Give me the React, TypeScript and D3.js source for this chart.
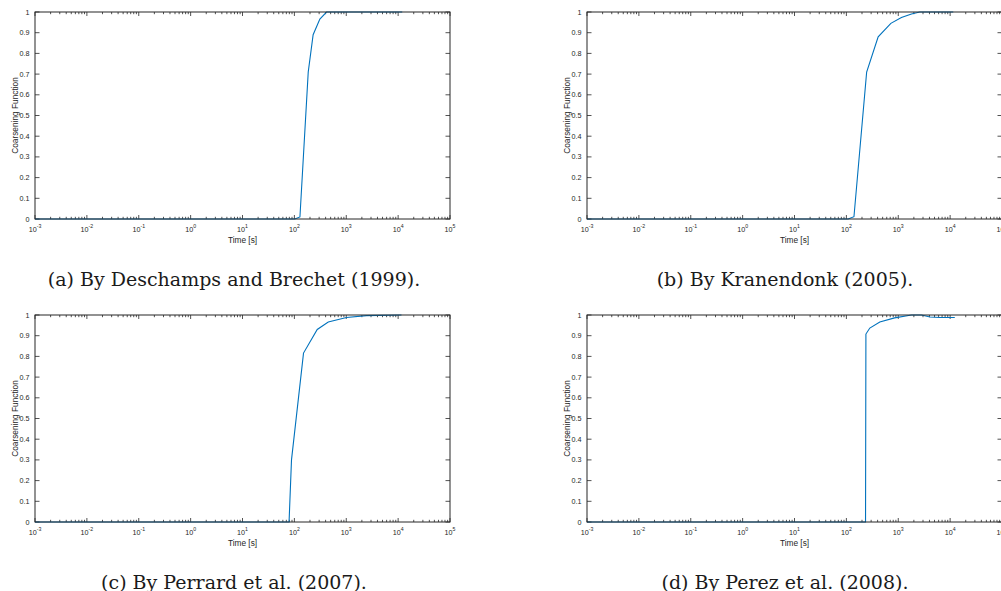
import * as d3 from "d3";

// coarsening function curves (time in s)
const T_A = [1e-3, 102, 128, 185, 230, 310, 417, 12000];
const F_A = [0, 0, 0.01, 0.71, 0.89, 0.966, 1.0, 1.0];

const T_B = [1e-3, 108, 140, 246, 410, 720, 1150, 1800, 2600, 11500];
const F_B = [0, 0, 0.011, 0.71, 0.88, 0.945, 0.973, 0.99, 1.0, 1.0];

const T_C = [1e-3, 79, 88, 150, 276, 450, 1010, 2450, 11600];
const F_C = [0, 0, 0.3, 0.816, 0.93, 0.966, 0.988, 0.997, 1.0];

const T_D = [1e-3, 234, 238, 283, 441, 850, 1800, 2800, 4100, 6300, 12300];
const F_D = [0, 0, 0.908, 0.937, 0.966, 0.986, 1.0, 1.0, 0.99, 0.988, 0.988];

const CAPTIONS = [
  "(a) By Deschamps and Brechet (1999).",
  "(b) By Kranendonk (2005).",
  "(c) By Perrard et al. (2007).",
  "(d) By Perez et al. (2008).",
];

const X_DOMAIN = [1e-3, 1e5];
const Y_TICKS = [0, 0.1, 0.2, 0.3, 0.4, 0.5, 0.6, 0.7, 0.8, 0.9, 1];
const X_LABEL = "Time [s]";
const Y_LABEL = "Coarsening Function";

const SERIES = [
  { t: T_A, f: F_A },
  { t: T_B, f: F_B },
  { t: T_C, f: F_C },
  { t: T_D, f: F_D },
];

// layout
const W = 1001, H = 591;
const AX_W = 415, AX_H = 207;
const ORIGINS = [
  [35, 12],
  [587, 12],
  [35, 315],
  [587, 315],
];
const CAPTION_X = [234, 785, 234, 785];
const CAPTION_DY = 273.5; // caption baseline below the axes top

const AXIS = "#262626";
const LINE = "#0072BD";
const SANS = "'Liberation Sans', Arial, sans-serif";

function fmtY(v: number) {
  if (v === 0) return "0";
  if (v === 1) return "1";
  return d3.format(".1f")(v);
}

function Panel({ i }: { i: number }) {
  const [ox, oy] = ORIGINS[i];
  const { t, f } = SERIES[i];
  const x = d3.scaleLog().domain(X_DOMAIN).range([0, AX_W]);
  const y = d3.scaleLinear().domain([0, 1]).range([AX_H, 0]);

  const ticks = x.ticks();
  const isMajor = (v: number) => Math.abs(Math.log10(v) - Math.round(Math.log10(v))) < 1e-9;

  const line = d3.line<number>()
    .x((_, k) => x(t[k]))
    .y((d) => y(d));

  return (
    <g transform={`translate(${ox},${oy})`}>
      {/* x ticks, bottom and top */}
      {ticks.map((v, k) => {
        const len = isMajor(v) ? 4 : 2.2;
        const px = x(v);
        return (
          <g key={k} stroke={AXIS} strokeWidth={0.8}>
            <line x1={px} x2={px} y1={AX_H} y2={AX_H - len} />
            <line x1={px} x2={px} y1={0} y2={len} />
          </g>
        );
      })}
      {/* y ticks, left and right */}
      {Y_TICKS.map((v, k) => (
        <g key={k} stroke={AXIS} strokeWidth={0.8}>
          <line x1={0} x2={4.5} y1={y(v)} y2={y(v)} />
          <line x1={AX_W} x2={AX_W - 4.5} y1={y(v)} y2={y(v)} />
        </g>
      ))}

      <path d={line(f) ?? ""} fill="none" stroke={LINE} strokeWidth={1.1} />

      <rect x={0} y={0} width={AX_W} height={AX_H} fill="none" stroke={AXIS} strokeWidth={1} />

      {/* x tick labels */}
      {ticks.filter(isMajor).map((v, k) => (
        <text key={k} x={x(v)} y={AX_H + 13} textAnchor="middle" fontFamily={SANS}
          fontSize={7.2} fill={AXIS}>
          10<tspan dy={-3.6} fontSize={5.2}>{Math.round(Math.log10(v))}</tspan>
        </text>
      ))}
      {/* y tick labels */}
      {Y_TICKS.map((v, k) => (
        <text key={k} x={-5.5} y={y(v)} dy="0.35em" textAnchor="end" fontFamily={SANS}
          fontSize={7.2} fill={AXIS}>
          {fmtY(v)}
        </text>
      ))}

      <text x={AX_W / 2} y={AX_H + 24} textAnchor="middle" fontFamily={SANS} fontSize={8.3} fill={AXIS}>
        {X_LABEL}
      </text>
      <text transform={`translate(-20,${AX_H / 2}) rotate(-90)`} textAnchor="middle" dy="0.35em"
        fontFamily={SANS} fontSize={8.3} fill={AXIS}>
        {Y_LABEL}
      </text>

      <text x={CAPTION_X[i] - ox} y={CAPTION_DY} textAnchor="middle"
        fontFamily="'DejaVu Serif', serif" fontSize={19} fill="#1a1a1a">
        {CAPTIONS[i]}
      </text>
    </g>
  );
}

export default function App() {
  return (
    <svg width={W} height={H} style={{ position: "absolute", left: 0, top: 0, background: "#fff" }}>
      {SERIES.map((_, i) => <Panel key={i} i={i} />)}
    </svg>
  );
}
